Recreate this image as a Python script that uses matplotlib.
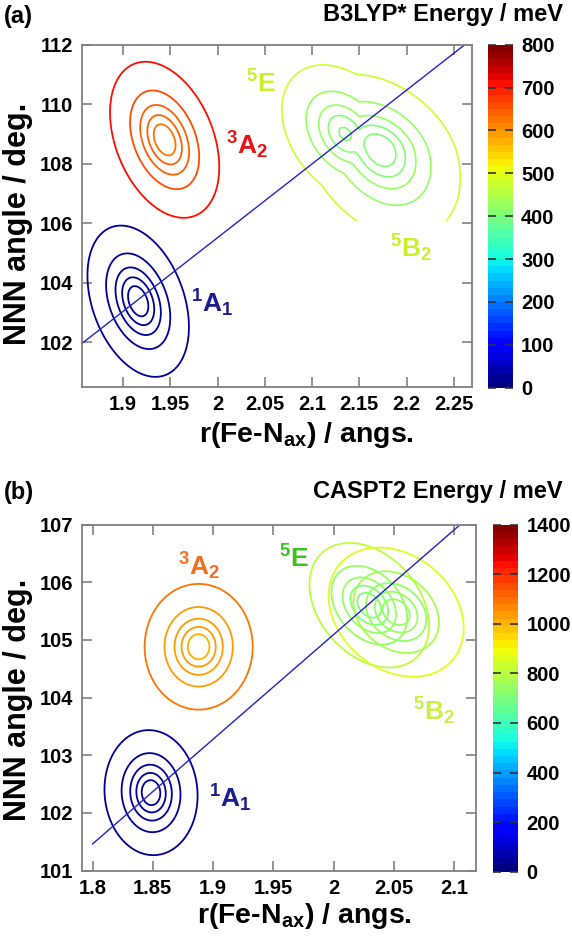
import numpy as np
import matplotlib
matplotlib.use('Agg')
import matplotlib.pyplot as plt
from matplotlib.colors import Normalize
from matplotlib.cm import ScalarMappable

plt.rcParams['font.family'] = ['Liberation Sans', 'DejaVu Sans']
plt.rcParams['font.weight'] = 'bold'
plt.rcParams['mathtext.fontset'] = 'custom'
plt.rcParams['mathtext.rm'] = 'Liberation Sans:bold'
plt.rcParams['mathtext.it'] = 'Liberation Sans:bold'
plt.rcParams['mathtext.bf'] = 'Liberation Sans:bold'

#####################################
# data

# contour levels (fraction of the outermost level, ~10/25/50/100/250 meV)
levels = [0.04, 0.1, 0.2, 0.4, 1.0]

# wells: x0, y0, sx, sy_up, sy_down, rho
a_1A1 = [1.916, 103.38, 0.0537, 2.54, 2.54, -0.34]
a_3A2 = [1.944, 108.80, 0.0578, 2.62, 2.62, -0.35]
a_5E = [2.135, 109.00, 0.068, 2.35, 2.35, -0.35]
a_5B2 = [2.172, 108.50, 0.085, 2.50, 3.00, -0.33]
a_5E_offset = 0.03        # 5E minimum sits slightly above 5B2
a_quintet_ymin = 106.07   # quintet scan stops here (open contours)

b_1A1 = [1.8485, 102.35, 0.0386, 1.084, 1.084, -0.05]
b_3A2 = [1.888, 104.88, 0.0448, 1.09, 1.09, 0.0]
b_5E = [2.0295, 105.60, 0.0496, 1.08, 1.08, -0.33]
b_5B2 = [2.0518, 105.48, 0.056, 1.12, 1.12, -0.25]

# contour colours as energy on the colour scale (inner -> outer)
a_col_1A1 = [20, 20, 20, 20, 25]
a_col_3A2 = [630, 635, 640, 650, 700]
a_col_quint = [410, 415, 420, 430, 475]
b_col_1A1 = [30, 30, 30, 30, 40]
b_col_3A2 = [1020, 1025, 1030, 1040, 1080]
b_col_5E = [720, 725, 735, 750, 800]
b_col_5B2 = [740, 745, 755, 775, 850]

# blue diagonal line
line_a_x = [1.856, 2.262]
line_a_y = [101.95, 112.0]
line_b_x = [1.800, 2.105]
line_b_y = [101.46, 107.0]

# state labels: text, x, y, colour
labels_a = [(r'$^1$A$_1$', 1.972, 103.0, '#1c1c8c'),
            (r'$^3$A$_2$', 2.009, 108.31, '#e81414'),
            (r'$^5$E', 2.030, 110.39, '#c8f028'),
            (r'$^5$B$_2$', 2.1826, 104.86, '#c8f028')]
labels_b = [(r'$^1$A$_1$', 1.8964, 102.10, '#1c1c8c'),
            (r'$^3$A$_2$', 1.8708, 106.12, '#f07020'),
            (r'$^5$E', 1.955, 106.26, '#3cc21e'),
            (r'$^5$B$_2$', 2.0659, 103.61, '#c8f040')]

# axes
xlim_a = (1.856, 2.269); ylim_a = (100.5, 112)
xticks_a = [1.9, 1.95, 2.0, 2.05, 2.1, 2.15, 2.2, 2.25]
xtlab_a = ['1.9', '1.95', '2', '2.05', '2.1', '2.15', '2.2', '2.25']
yticks_a = [102, 104, 106, 108, 110, 112]
xlim_b = (1.791, 2.118); ylim_b = (101, 107)
xticks_b = [1.8, 1.85, 1.9, 1.95, 2.0, 2.05, 2.1]
xtlab_b = ['1.8', '1.85', '1.9', '1.95', '2', '2.05', '2.1']
yticks_b = [101, 102, 103, 104, 105, 106, 107]
cmax_a = 800; cticks_a = list(range(0, 801, 100))
cmax_b = 1400; cticks_b = list(range(0, 1401, 200))
#####################################

cmap = plt.get_cmap('jet', 48)


def well(X, Y, p):
    x0, y0, sx, syu, syd, rho = p
    u = (X - x0) / sx
    dy = Y - y0
    v = np.where(dy > 0, dy / syu, dy / syd)
    return (u * u - 2 * rho * u * v + v * v) / (1 - rho * rho)


def draw_well(ax, p, cols, norm, xlim, ylim):
    X, Y = np.meshgrid(np.linspace(xlim[0], xlim[1], 300), np.linspace(ylim[0], ylim[1], 300))
    ax.contour(X, Y, well(X, Y, p), levels=levels,
               colors=[cmap(norm(c)) for c in cols], linewidths=1.3)


def style_axes(ax, xlim, ylim, xt, xtl, yt):
    ax.set_xlim(xlim); ax.set_ylim(ylim)
    ax.set_xticks(xt); ax.set_xticklabels(xtl)
    ax.set_yticks(yt)
    ax.tick_params(direction='in', length=7, width=1.1, color='#777777',
                   top=True, right=True, labelsize=14.5, pad=6)
    for s in ax.spines.values():
        s.set_color('#808080'); s.set_linewidth(1.3)


def style_cbar(cax, norm, ticks):
    cb = fig.colorbar(ScalarMappable(norm=norm, cmap=cmap), cax=cax, ticks=ticks)
    cb.outline.set_visible(False)
    cax.tick_params(direction='in', length=6, width=1.2, color='#333333',
                    left=True, right=True, labelsize=14.5, pad=6)


fig = plt.figure(figsize=(5.72, 9.42), dpi=100)
W, H = 572.0, 942.0
ax_a = fig.add_axes([81.5 / W, 1 - 387 / H, 390.2 / W, 342.5 / H])
cax_a = fig.add_axes([488.3 / W, 1 - 387.7 / H, 24.4 / W, 343 / H])
ax_b = fig.add_axes([81.7 / W, 1 - 870.5 / H, 394.3 / W, 346 / H])
cax_b = fig.add_axes([493.3 / W, 1 - 871.7 / H, 25 / W, 347 / H])

# ---- panel (a)
norm_a = Normalize(0, cmax_a)
draw_well(ax_a, a_1A1, a_col_1A1, norm_a, xlim_a, ylim_a)
draw_well(ax_a, a_3A2, a_col_3A2, norm_a, xlim_a, ylim_a)
# quintet surface: lower of 5E and 5B2 on a coarse scan grid
Xq, Yq = np.meshgrid(np.arange(1.86, 2.2701, 0.005), np.arange(a_quintet_ymin, 112.01, 0.1))
Zq = np.minimum(well(Xq, Yq, a_5E) + a_5E_offset, well(Xq, Yq, a_5B2))
ax_a.contour(Xq, Yq, Zq, levels=levels, colors=[cmap(norm_a(c)) for c in a_col_quint], linewidths=1.2)
ax_a.plot(line_a_x, line_a_y, color='#2222c0', lw=1.0)
for t, x, y, c in labels_a:
    ax_a.text(x, y, t, color=c, fontsize=19, fontweight='bold', ha='left', va='baseline')
style_axes(ax_a, xlim_a, ylim_a, xticks_a, xtlab_a, yticks_a)
style_cbar(cax_a, norm_a, cticks_a)

# ---- panel (b)
norm_b = Normalize(0, cmax_b)
draw_well(ax_b, b_1A1, b_col_1A1, norm_b, xlim_b, ylim_b)
draw_well(ax_b, b_3A2, b_col_3A2, norm_b, xlim_b, ylim_b)
draw_well(ax_b, b_5E, b_col_5E, norm_b, xlim_b, ylim_b)
draw_well(ax_b, b_5B2, b_col_5B2, norm_b, xlim_b, ylim_b)
ax_b.plot(line_b_x, line_b_y, color='#2222c0', lw=1.0)
for t, x, y, c in labels_b:
    ax_b.text(x, y, t, color=c, fontsize=19, fontweight='bold', ha='left', va='baseline')
style_axes(ax_b, xlim_b, ylim_b, xticks_b, xtlab_b, yticks_b)
style_cbar(cax_b, norm_b, cticks_b)

# ---- labels and titles
xlab = r'r(Fe-N$_{ax}$) / angs.'
ylab = 'NNN angle / deg.'
fig.text(306 / W, 1 - 441.7 / H, xlab, fontsize=20.5, ha='center', va='baseline')
fig.text(304 / W, 1 - 923 / H, xlab, fontsize=20.5, ha='center', va='baseline')
fig.text(18 / W, 1 - 224 / H, ylab, fontsize=22, rotation=90, ha='center', va='center')
fig.text(18 / W, 1 - 700 / H, ylab, fontsize=22, rotation=90, ha='center', va='center')
fig.text(4 / W, 1 - 17 / H, '(a)', fontsize=17, ha='left', va='center')
fig.text(4 / W, 1 - 493 / H, '(b)', fontsize=17, ha='left', va='center')
fig.text(563 / W, 1 - 20.7 / H, 'B3LYP* Energy / meV', fontsize=17, ha='right', va='baseline')
fig.text(563 / W, 1 - 498 / H, 'CASPT2 Energy / meV', fontsize=17, ha='right', va='baseline')

fig.savefig('out.png', dpi=100)
